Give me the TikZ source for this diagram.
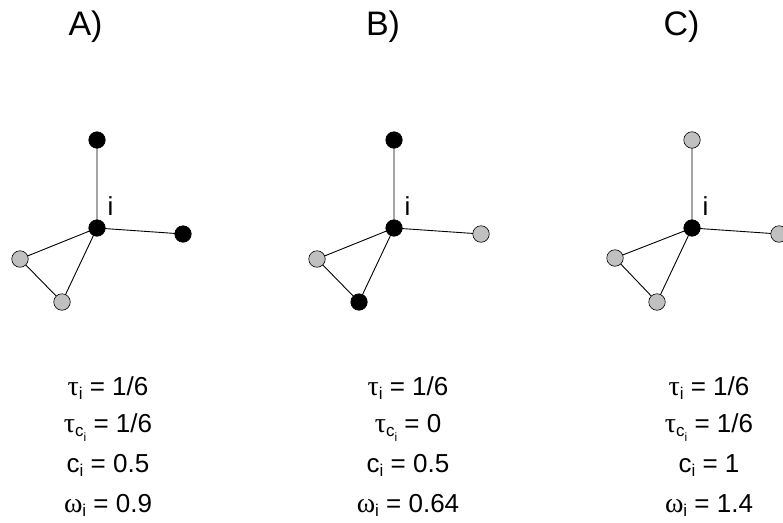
\documentclass[tikz,border=0pt]{standalone}
\usepackage{fontspec}
\setmainfont{Liberation Sans}
\newfontfamily\grk{Liberation Serif}
\definecolor{nodegray}{RGB}{192,192,192}
\newcommand\lbl{\fontsize{26}{26}\selectfont}
\newcommand\ttl{\fontsize{34}{34}\selectfont}
\newcommand\sbA[1]{\raisebox{-0.35ex}{\fontsize{17}{17}\selectfont #1}}
\newcommand\sbB[1]{\raisebox{-0.5ex}{\fontsize{12}{12}\selectfont #1}}
\newcommand\gk[1]{{\fontsize{28}{28}\grk #1}}
\newcommand\tauI{\gk{τ}\sbA{i}}
\newcommand\tauC{\gk{τ}\sbA{c\sbB{i}}}
\newcommand\cI{c\sbA{i}}
\newcommand\omI{\gk{ω}\sbA{i}}
\begin{document}
\begin{tikzpicture}[x=1pt,y=-1pt,
  blk/.style={circle,draw=black,fill=black,line width=0.6pt,minimum size=16.5pt,inner sep=0pt},
  gry/.style={circle,draw=black,fill=nodegray,line width=0.6pt,minimum size=16.5pt,inner sep=0pt},
  edge/.style={draw=black,line width=0.9pt},
  title/.style={anchor=base,font=\ttl,inner sep=0pt},
  val/.style={anchor=base,font=\lbl,inner sep=0pt},
  ilbl/.style={anchor=base,font=\lbl,inner sep=0pt}]
\useasboundingbox (0,0) rectangle (783,522);
% Titles
\node[title] (tA) at (85.5,35) {A)};
\node[title] (tB) at (383,35) {B)};
\node[title] (tC) at (681.5,35) {C)};
% Panel A
\coordinate (aC) at (97,228);
\coordinate (aT) at (97,140);
\coordinate (aR) at (183,234);
\coordinate (aL) at (20,259);
\coordinate (aB) at (62,302);
\draw[edge] (aC) -- (aT) (aC) -- (aR) (aC) -- (aL) (aC) -- (aB) (aL) -- (aB);
\node[blk] (a0) at (aC) {};
\node[blk] (a1) at (aT) {};
\node[blk] (a2) at (aR) {};
\node[gry] (a3) at (aL) {};
\node[gry] (a4) at (aB) {};
\node[ilbl] (ai) at (110.5,215) {i};
% Panel B
\coordinate (bC) at (394,228);
\coordinate (bT) at (394,140);
\coordinate (bR) at (481,234);
\coordinate (bL) at (317,259);
\coordinate (bB) at (359,302);
\draw[edge] (bC) -- (bT) (bC) -- (bR) (bC) -- (bL) (bC) -- (bB) (bL) -- (bB);
\node[blk] (b0) at (bC) {};
\node[blk] (b1) at (bT) {};
\node[gry] (b2) at (bR) {};
\node[gry] (b3) at (bL) {};
\node[blk] (b4) at (bB) {};
\node[ilbl] (bi) at (407.5,215) {i};
% Panel C
\coordinate (cC) at (692,228);
\coordinate (cT) at (692,140);
\coordinate (cR) at (779,234);
\coordinate (cL) at (615,258);
\coordinate (cB) at (657,302);
\draw[edge] (cC) -- (cT) (cC) -- (cR) (cC) -- (cL) (cC) -- (cB) (cL) -- (cB);
\node[blk] (c0) at (cC) {};
\node[gry] (c1) at (cT) {};
\node[gry] (c2) at (cR) {};
\node[gry] (c3) at (cL) {};
\node[gry] (c4) at (cB) {};
\node[ilbl] (ci) at (705.5,215) {i};
% Values
\node[val] (va1) at (108,395) {\tauI{} = 1/6};
\node[val] (va2) at (108,432) {\tauC{} = 1/6};
\node[val] (va3) at (108,472) {\cI{} = 0.5};
\node[val] (va4) at (108,512) {\omI{} = 0.9};
\node[val] (vb1) at (408,395) {\tauI{} = 1/6};
\node[val] (vb2) at (408,432) {\tauC{} = 0};
\node[val] (vb3) at (408,472) {\cI{} = 0.5};
\node[val] (vb4) at (408,512) {\omI{} = 0.64};
\node[val] (vc1) at (709,395) {\tauI{} = 1/6};
\node[val] (vc2) at (709,432) {\tauC{} = 1/6};
\node[val] (vc3) at (709,472) {\cI{} = 1};
\node[val] (vc4) at (709,512) {\omI{} = 1.4};
\end{tikzpicture}
\end{document}
